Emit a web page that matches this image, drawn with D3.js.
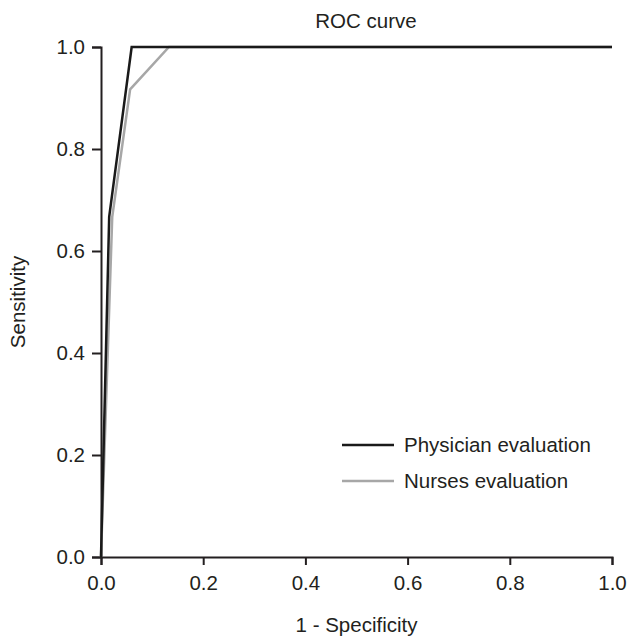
<!DOCTYPE html>
<html>
<head>
<meta charset="utf-8">
<script src="https://cdn.jsdelivr.net/npm/d3@7"></script>
<style>
  body { margin: 0; background: #fff; }
  svg text { font-family: "Liberation Sans", Arial, sans-serif; fill: #231f20; }
</style>
</head>
<body>
<svg id="chart" width="627" height="639"></svg>
<script>
// ROC points (1 - specificity, sensitivity)
const physicianFpr = [0, 0.016, 0.06, 1.0]
const physicianTpr = [0, 0.667, 1.0, 1.0]
const nursesFpr = [0, 0.022, 0.057, 0.133, 1.0]
const nursesTpr = [0, 0.667, 0.917, 1.0, 1.0]
const tickValues = [0, 0.2, 0.4, 0.6, 0.8, 1.0]
const seriesNames = ["Physician evaluation", "Nurses evaluation"]
const seriesColors = ["#1a1a1a", "#a7a7a7"]

let svg = d3.select("#chart")
let margin = {left: 101, right: 15, top: 47, bottom: 82}
let width = 627, height = 639
let fontSize = "20.5px"

let x = d3.scaleLinear().domain([0, 1]).range([margin.left, width - margin.right])
let y = d3.scaleLinear().domain([0, 1]).range([height - margin.bottom, margin.top])

svg.append("g")
    .attr("transform", "translate(0," + y(0) + ")")
    .call(d3.axisBottom(x).tickValues(tickValues).tickFormat(d3.format(".1f")).tickSizeOuter(0).tickSize(8).tickPadding(10))
svg.append("g")
    .attr("transform", "translate(" + x(0) + ",0)")
    .call(d3.axisLeft(y).tickValues(tickValues).tickFormat(d3.format(".1f")).tickSizeOuter(0).tickSize(9).tickPadding(7))

svg.selectAll(".domain, .tick line").attr("stroke", "#231f20").attr("stroke-width", 2)
svg.selectAll(".tick text").style("font-size", fontSize).attr("fill", "#231f20")

let series = [
  physicianFpr.map((f, i) => [f, physicianTpr[i]]),
  nursesFpr.map((f, i) => [f, nursesTpr[i]])
]
let line = d3.line().x(d => x(d[0])).y(d => y(d[1]))

// nurses first so the physician curve sits on top
;[1, 0].forEach(i => {
  svg.append("path")
    .attr("d", line(series[i]))
    .attr("fill", "none")
    .attr("stroke", seriesColors[i])
    .attr("stroke-width", 2.5)
})

// legend
let legend = svg.append("g").attr("transform", "translate(342,445)")
seriesNames.forEach((name, i) => {
  let g = legend.append("g").attr("transform", "translate(0," + i * 36 + ")")
  g.append("line").attr("x1", 0).attr("x2", 52).attr("y1", 0).attr("y2", 0)
    .attr("stroke", seriesColors[i]).attr("stroke-width", 2.5)
  g.append("text").attr("x", 62).attr("y", 0).attr("dy", "0.35em")
    .style("font-size", fontSize).text(name)
})

svg.append("text").attr("x", 366).attr("y", 28)
  .attr("text-anchor", "middle").style("font-size", fontSize).text("ROC curve")

svg.append("text").attr("x", (x(0) + x(1)) / 2).attr("y", 632)
  .attr("text-anchor", "middle").style("font-size", fontSize).text("1 - Specificity")

svg.append("text")
  .attr("transform", "translate(25," + (y(0) + y(1)) / 2 + ")rotate(-90)")
  .attr("text-anchor", "middle").style("font-size", fontSize).text("Sensitivity")
</script>
</body>
</html>
